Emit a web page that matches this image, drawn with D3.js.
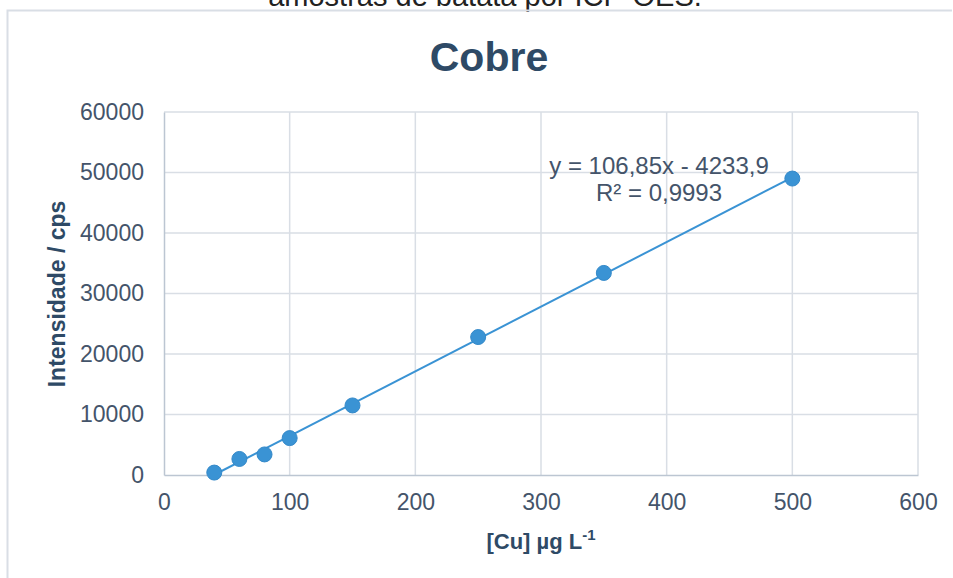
<!DOCTYPE html>
<html>
<head>
<meta charset="utf-8">
<script src="https://cdn.jsdelivr.net/npm/d3@7"></script>
<style>
  html, body { margin: 0; padding: 0; background: #fff; }
  svg { display: block; font-family: Arial, "Liberation Sans", sans-serif; }
</style>
</head>
<body>
<svg id="chart" width="953" height="578"></svg>
<script>
// Copper calibration curve (ICP-OES)
const concentrations = [40, 60, 80, 100, 150, 250, 350, 500];
const intensities = [400, 2650, 3400, 6100, 11500, 22800, 33400, 49000];
const xTicks = [0, 100, 200, 300, 400, 500, 600];
const yTicks = [0, 10000, 20000, 30000, 40000, 50000, 60000];
const slope = 106.85, intercept = -4233.9;
const equationLines = ["y = 106,85x - 4233,9", "R\u00b2 = 0,9993"];

const svg = d3.select("#chart");
const plot = { left: 164, right: 918, top: 112, bottom: 475 };

const textColor = "#2e4a66";
const tickColor = "#44546a";
const gridColor = "#d9dee5";
const axisColor = "#bcc6d2";
const seriesColor = "#3a93d4";
const fontFamily = "Arial, 'Liberation Sans', sans-serif";

// caption line above the chart frame
svg.append("text")
  .attr("x", 485).attr("y", 6)
  .attr("text-anchor", "middle")
  .attr("font-size", 29)
  .attr("fill", "#222")
  .text("amostras de batata por ICP-OES.");

// chart frame
svg.append("path")
  .attr("d", `M7.5,578 V10.5 H952`)
  .attr("fill", "none")
  .attr("stroke", gridColor)
  .attr("stroke-width", 2);

const x = d3.scaleLinear().domain([0, 600]).range([plot.left, plot.right]);
const y = d3.scaleLinear().domain([0, 60000]).range([plot.bottom, plot.top]);

// gridlines
const grid = svg.append("g");
grid.selectAll(".gx").data(xTicks.slice(1)).join("line")
  .attr("x1", d => x(d)).attr("x2", d => x(d))
  .attr("y1", plot.top).attr("y2", plot.bottom)
  .attr("stroke", gridColor).attr("stroke-width", 1.5);
grid.selectAll(".gy").data(yTicks.slice(1)).join("line")
  .attr("x1", plot.left).attr("x2", plot.right)
  .attr("y1", d => y(d)).attr("y2", d => y(d))
  .attr("stroke", gridColor).attr("stroke-width", 1.5);

// axes
const xAxis = d3.axisBottom(x).tickValues(xTicks).tickSize(0).tickPadding(19).tickFormat(d3.format("d"));
const yAxis = d3.axisLeft(y).tickValues(yTicks).tickSize(0).tickPadding(20).tickFormat(d3.format("d"));

const gx = svg.append("g").attr("transform", `translate(0,${plot.bottom})`).call(xAxis);
gx.select(".domain").attr("stroke", axisColor).attr("stroke-width", 1.5);
gx.selectAll("text").attr("font-size", 23).attr("fill", tickColor).attr("font-family", fontFamily);

const gy = svg.append("g").attr("transform", `translate(${plot.left},0)`).call(yAxis);
gy.select(".domain").attr("stroke", axisColor).attr("stroke-width", 1.5);
gy.selectAll("text").attr("font-size", 23).attr("fill", tickColor).attr("font-family", fontFamily);

// linear trendline over the data range
const xMin = d3.min(concentrations), xMax = d3.max(concentrations);
svg.append("line")
  .attr("x1", x(xMin)).attr("y1", y(slope * xMin + intercept))
  .attr("x2", x(xMax)).attr("y2", y(slope * xMax + intercept))
  .attr("stroke", seriesColor).attr("stroke-width", 2);

// data points
svg.append("g").selectAll("circle")
  .data(concentrations.map((c, i) => [c, intensities[i]]))
  .join("circle")
  .attr("cx", d => x(d[0])).attr("cy", d => y(d[1]))
  .attr("r", 7.5)
  .attr("fill", seriesColor)
  .attr("stroke", "#3489c9").attr("stroke-width", 1);

// trendline equation
const eq = svg.append("text")
  .attr("text-anchor", "middle")
  .attr("font-size", 24)
  .attr("fill", tickColor);
eq.selectAll("tspan").data(equationLines).join("tspan")
  .attr("x", 659)
  .attr("y", (d, i) => 174 + i * 27)
  .text(d => d);

// title
svg.append("text")
  .attr("x", 489).attr("y", 71)
  .attr("text-anchor", "middle")
  .attr("font-size", 41).attr("font-weight", "bold")
  .attr("fill", textColor)
  .text("Cobre");

// axis titles
const xt = svg.append("text")
  .attr("x", 541).attr("y", 549)
  .attr("text-anchor", "middle")
  .attr("font-size", 22).attr("font-weight", "bold")
  .attr("fill", textColor);
xt.append("tspan").text("[Cu] \u00b5g L");
xt.append("tspan").attr("font-size", 15).attr("dy", -9).text("-1");

svg.append("text")
  .attr("transform", "translate(65,294) rotate(-90)")
  .attr("text-anchor", "middle")
  .attr("font-size", 23).attr("font-weight", "bold")
  .attr("fill", textColor)
  .text("Intensidade / cps");
</script>
</body>
</html>
